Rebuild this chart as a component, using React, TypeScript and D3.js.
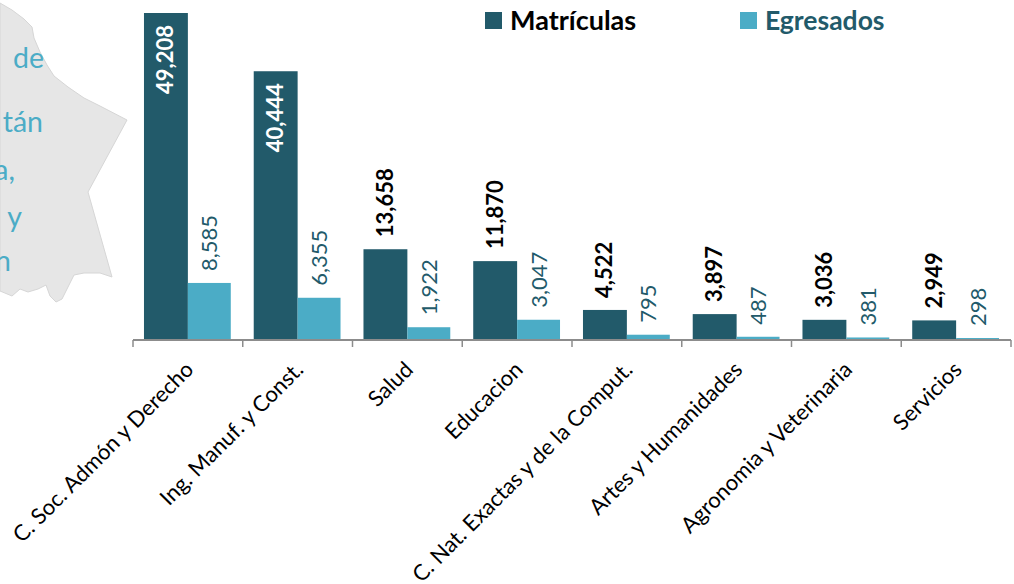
import React from "react";
import * as d3 from "d3";

const categories = ["C. Soc. Admón y Derecho", "Ing. Manuf. y Const.", "Salud", "Educacion", "C. Nat. Exactas y de la Comput.", "Artes y Humanidades", "Agronomia y Veterinaria", "Servicios"];
const matriculas = [49208, 40444, 13658, 11870, 4522, 3897, 3036, 2949];
const egresados = [8585, 6355, 1922, 3047, 795, 487, 381, 298];
const seriesNames = ["Matrículas", "Egresados"];
const fragments = [["de", 44, 68], ["tán", 43, 132], ["a,", 15, 180], ["y", 22, 227], ["n", 11, 271]] as const;
const mapOutline: [number, number][] = [[0,3],[12,10],[24,19],[32,27],[34,38],[40,52],[47,65],[54,76],[68,87],[84,98],[100,106],[127,120],[88,192],[112,277],[100,273],[84,273],[74,275],[68,287],[62,299],[56,302],[50,296],[46,285],[38,289],[28,292],[20,289],[12,296],[0,291]];

const DARK = "#225a6a";
const LIGHT = "#4bacc6";
const FONT = "Lato, 'Open Sans', sans-serif";
const x = d3.scaleBand<string>().domain(categories).range([133, 1011]).paddingInner(0.2).paddingOuter(0.1);
const inner = d3.scaleBand<string>().domain(seriesNames).range([0, x.bandwidth()]);
const y = d3.scaleLinear().domain([0, 49208]).range([340, 13]);
const fmt = d3.format(",");

export default function App() {
  const step = x.step();
  return (
    <svg width={1014} height={584} style={{ position: "absolute", left: 0, top: 0, fontFamily: FONT }}>
      <path d={d3.line()(mapOutline)! + "Z"} fill="#e6e6e6" stroke="#d6d6d6" />
      {fragments.map(([t, px, py]) => (
        <text key={t} x={px} y={py} textAnchor="end" fontSize={28.5} fill={LIGHT}>{t}</text>
      ))}
      {categories.map((c, i) => {
        const x0 = x(c)!;
        const xm = x0 + inner(seriesNames[0])!;
        const xe = x0 + inner(seriesNames[1])!;
        const w = inner.bandwidth();
        const ym = y(matriculas[i]);
        const ye = y(egresados[i]);
        const insideBar = matriculas[i] > 20000;
        const mx = xm + w / 2 + 7.5;
        const my = insideBar ? ym + 12 : ym - 12;
        const ex = xe + w / 2 + 7.5;
        const ey = ye - 12;
        return (
          <g key={c}>
            <rect x={xm} y={ym} width={w} height={340 - ym} fill={DARK} />
            <rect x={xe} y={ye} width={w - 1} height={340 - ye} fill={LIGHT} />
            <text transform={`translate(${mx},${my}) rotate(-90)`} textAnchor={insideBar ? "end" : "start"} fontSize={22} fontWeight={700} fill={insideBar ? "#fff" : "#000"}>{fmt(matriculas[i])}</text>
            <text transform={`translate(${ex},${ey}) rotate(-90)`} fontSize={22} fill={DARK}>{fmt(egresados[i])}</text>
            <text transform={`translate(${x0 + x.bandwidth() / 2 + 7},${371}) rotate(-45)`} textAnchor="end" fontSize={22} fill="#000">{c}</text>
          </g>
        );
      })}
      <line x1={133} x2={1011} y1={340} y2={340} stroke="#8c8c8c" strokeWidth={2} />
      {d3.range(categories.length + 1).map((i) => (
        <line key={i} x1={133 + i * step} x2={133 + i * step} y1={340} y2={347} stroke="#8c8c8c" strokeWidth={1.5} />
      ))}
      <rect x={485} y={12} width={17} height={17} fill={DARK} />
      <text x={510} y={30} fontSize={27} fontWeight={700} fill="#000">{seriesNames[0]}</text>
      <rect x={740} y={12} width={17} height={17} fill={LIGHT} />
      <text x={765} y={30} fontSize={26.5} fontWeight={700} fill={DARK}>{seriesNames[1]}</text>
    </svg>
  );
}
